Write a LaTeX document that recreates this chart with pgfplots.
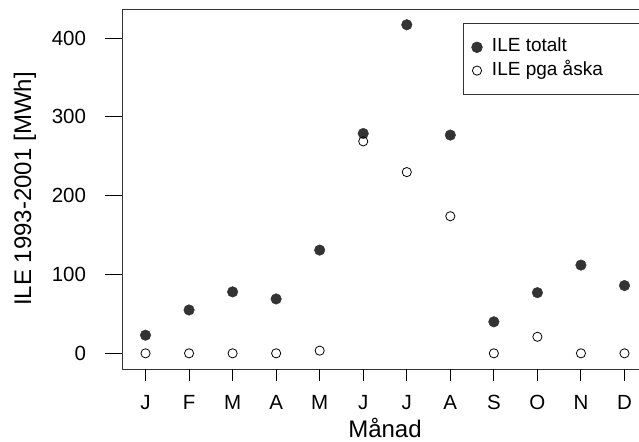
\documentclass[border=0pt]{standalone}
\usepackage{pgfplots}
\pgfplotsset{compat=1.18}
\usepackage{fontspec}
\setmainfont{Liberation Sans}
\definecolor{dotc}{HTML}{333333}
\begin{document}
\fontsize{20.5bp}{24bp}\selectfont
\begin{tikzpicture}
\useasboundingbox (-122bp,-73bp) rectangle (517bp,369bp);
\begin{axis}[
  at={(0,0)}, anchor=south west,
  scale only axis, width=526bp, height=360bp,
  xmin=0.46, xmax=12.54, ymin=-19.9, ymax=437,
  xtick={1,...,12}, xticklabels={J,F,M,A,M,J,J,A,S,O,N,D},
  ytick={0,100,200,300,400},
  tick align=outside, tick pos=left,
  axis line style={black!80, line width=0.8bp},
  major tick length=12bp,
  xtick style={draw=black, line width=1bp},
  ytick style={draw=black, line width=1bp, /pgfplots/major tick length=17bp},
  /pgf/number format/assume math mode=true,
  xticklabel shift=7bp,
  yticklabel shift=17bp,
  xlabel={Månad}, ylabel={ILE 1993-2001 [MWh]},
  label style={font=\fontsize{24bp}{28bp}\selectfont},
  xlabel style={at={(axis description cs:0.5,-0.1889)}, anchor=base},
  ylabel style={at={(axis description cs:-0.1844,0.5)}, anchor=center},
  legend style={at={(axis description cs:1,0.96)}, anchor=north east,
    draw=black!80, line width=0.8bp, font=\fontsize{19bp}{22bp}\selectfont,
    inner xsep=8.7bp, inner ysep=14bp, row sep=4.3bp,
    nodes={inner sep=0pt, text height=14bp, text depth=5bp},
    /tikz/every odd column/.append style={column sep=9.7bp}},
  legend cell align=left,
  legend image code/.code={\draw[#1] plot coordinates {(0bp,0bp)};},
  clip=false,
]
\addplot[only marks, mark=*, mark size=5.3bp, mark options={draw=dotc, fill=dotc}] coordinates {
(1,23) (2,55) (3,78) (4,69) (5,131) (6,279) (7,417) (8,277) (9,40) (10,77) (11,112) (12,86)};
\addlegendentry{ILE totalt}
\addplot[only marks, mark=o, mark size=4.6bp, mark options={draw=black, line width=0.8bp, fill=white}] coordinates {
(1,0) (2,0) (3,0) (4,0) (5,3.4) (6,269) (7,230) (8,174) (9,0) (10,21) (11,0) (12,0)};
\addlegendentry{ILE pga åska\rule{36bp}{0pt}}
\pgfplotsinvokeforeach{1,...,12}{\draw[black, line width=1bp] (axis cs:#1,-19.9) -- ++(0bp,-12bp);}
\pgfplotsinvokeforeach{0,100,200,300,400}{\draw[black, line width=1bp] (axis cs:0.46,#1) -- ++(-17bp,0bp);}
\end{axis}
\end{tikzpicture}
\end{document}
